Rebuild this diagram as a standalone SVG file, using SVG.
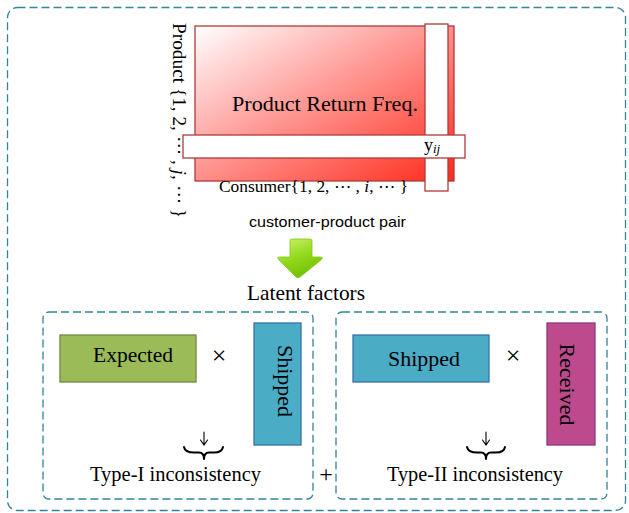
<svg xmlns="http://www.w3.org/2000/svg" width="629" height="513" viewBox="0 0 629 513">
  <style>
    .dash { fill: none; stroke: #31859c; stroke-width: 1.3; stroke-dasharray: 8 4; }
    .serif { font-family: "Liberation Serif", "DejaVu Serif", serif; fill: #000; }
    .sans { font-family: "Liberation Sans", Arial, sans-serif; fill: #000; }
    .bar { fill: #fff; stroke: #b03a3a; stroke-width: 1.3; }
    .brace { fill: none; stroke: #000; stroke-width: 2; stroke-linejoin: round; stroke-linecap: round; }
    .down { fill: none; stroke: #000; stroke-width: 1.1; stroke-linecap: round; }
    .op { fill: none; stroke: #000; stroke-width: 1.1; stroke-linecap: round; }
  </style>
  <defs>
    <linearGradient id="redFill" x1="0" y1="0" x2="1" y2="1">
      <stop offset="0" stop-color="#ffffff"/>
      <stop offset="0.45" stop-color="#ff9a96"/>
      <stop offset="1" stop-color="#ff2a1a"/>
    </linearGradient>
    <linearGradient id="greenFill" x1="0.2" y1="0" x2="0.6" y2="1">
      <stop offset="0" stop-color="#c4f060"/>
      <stop offset="0.5" stop-color="#92d81c"/>
      <stop offset="1" stop-color="#6fbf00"/>
    </linearGradient>
  </defs>

  <!-- outer frame -->
  <rect class="dash" x="7.5" y="7.5" width="618" height="503" rx="10"/>

  <!-- return-frequency matrix -->
  <g id="matrix">
    <rect x="195" y="26" width="259" height="155" fill="url(#redFill)" stroke="#b03a3a" stroke-width="1.3"/>
    <text class="serif" x="232" y="111" font-size="22" textLength="186" lengthAdjust="spacingAndGlyphs">Product Return Freq.</text>
    <rect class="bar" x="425" y="24" width="23" height="167"/>
    <rect class="bar" x="183" y="135" width="282" height="23"/>
    <text class="serif" x="424" y="151" font-size="18">y<tspan font-style="italic" font-size="13" dy="2">ij</tspan></text>
    <text class="serif" x="219" y="192" font-size="16" textLength="189" lengthAdjust="spacingAndGlyphs">Consumer{1, 2, ⋯ , <tspan font-style="italic">i</tspan>, ⋯ }</text>
    <text class="serif" font-size="19" textLength="195" lengthAdjust="spacingAndGlyphs" transform="translate(173,23) rotate(90)">Product {1, 2, ⋯ , <tspan font-style="italic">j</tspan>, ⋯ }</text>
  </g>

  <g id="pair-label">
    <text class="sans" x="249" y="227" font-size="15" textLength="157" lengthAdjust="spacingAndGlyphs">customer-product pair</text>
  </g>

  <!-- green down arrow -->
  <g id="arrow">
    <path d="M292,239 L310,239 Q312,239 312,241 L312,257 L320,257 Q324,257 321,260 L300,277 Q298,278.5 296,277 L279,260 Q276,257 280,257 L290,257 L290,241 Q290,239 292,239 Z" fill="url(#greenFill)" stroke="#80c810" stroke-width="0.8" stroke-linejoin="round"/>
  </g>

  <g id="latent-label">
    <text class="serif" x="247" y="300" font-size="22" textLength="118" lengthAdjust="spacingAndGlyphs">Latent factors</text>
  </g>

  <!-- Type-I panel -->
  <g id="type1">
    <rect class="dash" x="43" y="312" width="270" height="187" rx="6"/>
    <rect x="60" y="335" width="136" height="47" fill="#9bbb59" stroke="#71893f" stroke-width="1.3"/>
    <text class="serif" x="133" y="362" font-size="21" text-anchor="middle" textLength="80" lengthAdjust="spacingAndGlyphs">Expected</text>
    <text class="serif" x="219" y="364" font-size="26" text-anchor="middle">×</text>
    <rect x="254" y="323" width="47" height="122" fill="#4bacc6" stroke="#3a6fae" stroke-width="1.3"/>
    <text class="serif" font-size="22" text-anchor="middle" transform="translate(278,381) rotate(90)">Shipped</text>
    <path class="down" d="M204,432 L204,445 M200.5,440 L204,445 L207.5,440"/>
    <path class="brace" d="M184,447 Q185,452.5 194,452.5 L199,452.5 Q204,452.5 204,459 Q204,452.5 209,452.5 L214,452.5 Q222,452.5 223,447"/>
    <text class="serif" x="90" y="481" font-size="20" textLength="171" lengthAdjust="spacingAndGlyphs">Type-I inconsistency</text>
  </g>

  <g id="plus">
    <text class="serif" x="326" y="482" font-size="24" text-anchor="middle">+</text>
  </g>

  <!-- Type-II panel -->
  <g id="type2">
    <rect class="dash" x="336" y="312" width="271" height="187" rx="6"/>
    <rect x="353" y="335" width="136" height="47" fill="#4bacc6" stroke="#3a6fae" stroke-width="1.3"/>
    <text class="serif" x="424" y="366" font-size="21" text-anchor="middle" textLength="72" lengthAdjust="spacingAndGlyphs">Shipped</text>
    <text class="serif" x="513" y="364" font-size="26" text-anchor="middle">×</text>
    <rect x="547" y="323" width="48" height="122" fill="#bc4a8c" stroke="#8b3a7e" stroke-width="1.3"/>
    <text class="serif" font-size="22" text-anchor="middle" transform="translate(560,384.5) rotate(90)">Received</text>
    <path class="down" d="M486,432 L486,445 M482.5,440 L486,445 L489.5,440"/>
    <path class="brace" d="M467,447 Q468,452.5 477,452.5 L481,452.5 Q486,452.5 486,459 Q486,452.5 491,452.5 L496,452.5 Q504,452.5 505,447"/>
    <text class="serif" x="387" y="481" font-size="20" textLength="176" lengthAdjust="spacingAndGlyphs">Type-II inconsistency</text>
  </g>
</svg>
